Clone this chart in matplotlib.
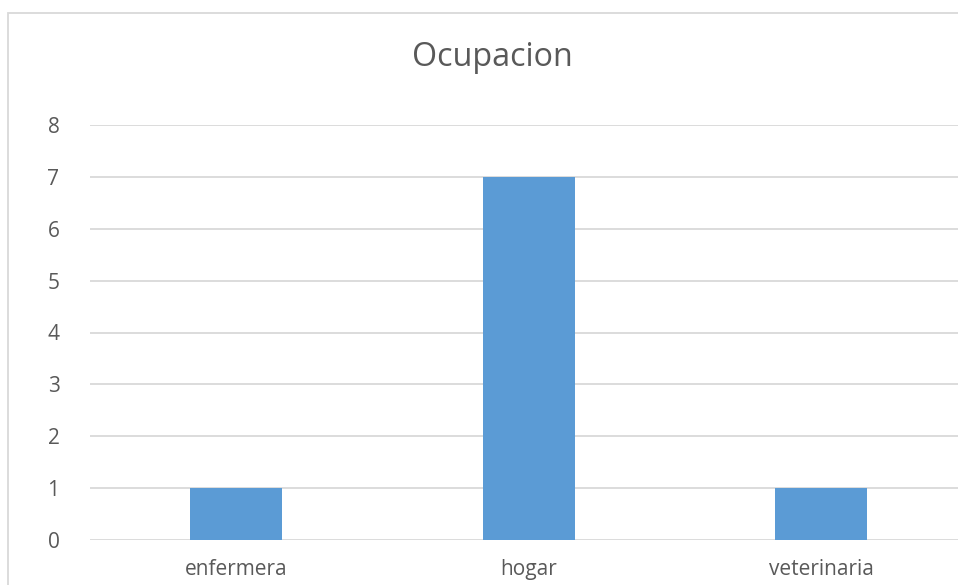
import matplotlib
matplotlib.use("Agg")
import matplotlib.pyplot as plt
from matplotlib.patches import Rectangle

categories = ["enfermera", "hogar", "veterinaria"]
values = [1, 7, 1]
yticks = [0, 1, 2, 3, 4, 5, 6, 7, 8]
title = "Ocupacion"

W, H = 958, 585
fig = plt.figure(figsize=(W / 100, H / 100), dpi=100)
font = ["Open Sans", "DejaVu Sans"]

# chart border (extends beyond the image on right and bottom)
fig.patches.append(Rectangle((8 / W, -0.1), 1.2, (585 - 13) / H + 0.1,
                             transform=fig.transFigure, fill=False,
                             edgecolor="#d9d9d9", linewidth=1.3, zorder=0))

ax = fig.add_axes([90 / W, 45 / H, 877.5 / W, 415 / H])
x = list(range(len(categories)))
ax.bar(x, values, width=0.315, color="#5B9BD5", zorder=3)
ax.set_xlim(-0.5, len(categories) - 0.5)
ax.set_ylim(0, 8)
ax.set_yticks(yticks)
ax.set_xticks(x)
ax.set_xticklabels(categories)
for s in ax.spines.values():
    s.set_visible(False)
ax.grid(axis="y", color="#d9d9d9", linewidth=1.3, zorder=0)
ax.tick_params(axis="both", length=0, colors="#595959", labelsize=15)
ax.tick_params(axis="y", pad=22)
ax.tick_params(axis="x", pad=14)
for lab in ax.get_xticklabels() + ax.get_yticklabels():
    lab.set_family(font)
    lab.set_color("#595959")
ax.set_axisbelow(True)

fig.text(492 / W, 1 - 57 / H, title, ha="center", va="center",
         fontsize=23.2, color="#595959", family=font)

fig.savefig("out.png", dpi=100)
